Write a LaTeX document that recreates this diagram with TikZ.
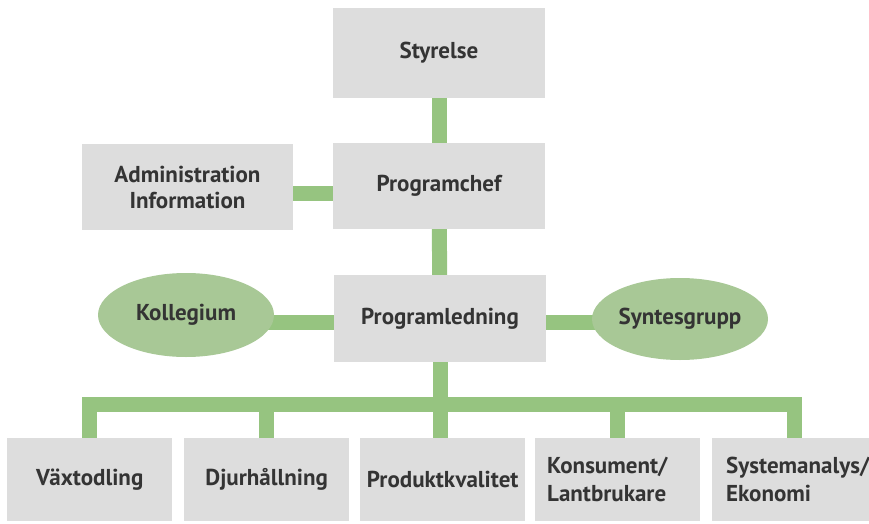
\documentclass[tikz,border=0pt]{standalone}
\usepackage{fontspec}
\setmainfont{PT Sans}
\usetikzlibrary{shapes.geometric,backgrounds}
\definecolor{boxgray}{RGB}{221,221,221}
\definecolor{ellgreen}{RGB}{168,200,150}
\definecolor{conngreen}{RGB}{150,196,128}
\definecolor{txt}{RGB}{52,52,52}
\tikzset{
  base/.style={inner sep=0pt, text=txt, font=\fontsize{23}{26}\selectfont\bfseries},
  gbox/.style={base, rectangle, fill=boxgray, align=center},
  gell/.style={base, ellipse, fill=ellgreen},
  botbox/.style={gbox, minimum width=165pt, minimum height=83pt, anchor=north west},
  conn/.style={draw=conngreen, line width=15pt, line join=miter}
}
\begin{document}
\begin{tikzpicture}[x=1pt,y=-1pt]
\useasboundingbox (0,0) rectangle (869,524);
% upper boxes
\node[gbox, minimum width=212pt, minimum height=90pt] (sty) at (439,53) {Styrelse};
\node[gbox, minimum width=212pt, minimum height=86pt] (chef) at (439,186) {Programchef};
\node[gbox, minimum width=211pt, minimum height=86pt] (adm) at (187.5,187) {Administration\\Information};
\node[gbox, minimum width=212pt, minimum height=87pt] (led) at (440,318.5) {Programledning};
\node[gell, minimum width=176pt, minimum height=84pt] (kol) at (186,315) {Kollegium};
\node[gell, minimum width=176pt, minimum height=82pt] (syn) at (680,319) {Syntesgrupp};
% bottom boxes
\node[botbox] (b1) at (7,438) {Växtodling};
\node[botbox] (b2) at (184,438) {Djurhållning};
\node[botbox] (b3) at (360,438) {Produktkvalitet};
\node[botbox, align=left, text width=141pt, inner xsep=12pt, font=\fontsize{23}{28}\selectfont\bfseries] (b4) at (535,438) {Konsument/\\Lantbrukare};
\node[botbox, align=left, text width=137pt, inner xsep=14pt, font=\fontsize{23}{28}\selectfont\bfseries] (b5) at (712,438) {Systemanalys/\\Ekonomi};
\coordinate (bus) at (437,404);
\coordinate (midrow) at (440,322);
\begin{scope}[on background layer]
  \draw[conn] (sty.center) -- (chef.center);
  \draw[conn] (chef.center) -- (led.center);
  \draw[conn] ([yshift=-6pt]adm.center) -- ([yshift=-6pt]adm.center -| chef.center);
  \draw[conn] (kol.center |- midrow) -- (midrow);
  \draw[conn] (midrow) -- (syn.center |- midrow);
  \draw[conn] (led.center) -- (led.center |- b3.north);
  \draw[conn] (b1.north) -- (b1.north |- bus) -- (b5.north |- bus) -- (b5.north);
  \draw[conn] (b2.north) -- (b2.north |- bus);
  \draw[conn] (b4.north) -- (b4.north |- bus);
\end{scope}
\end{tikzpicture}
\end{document}
